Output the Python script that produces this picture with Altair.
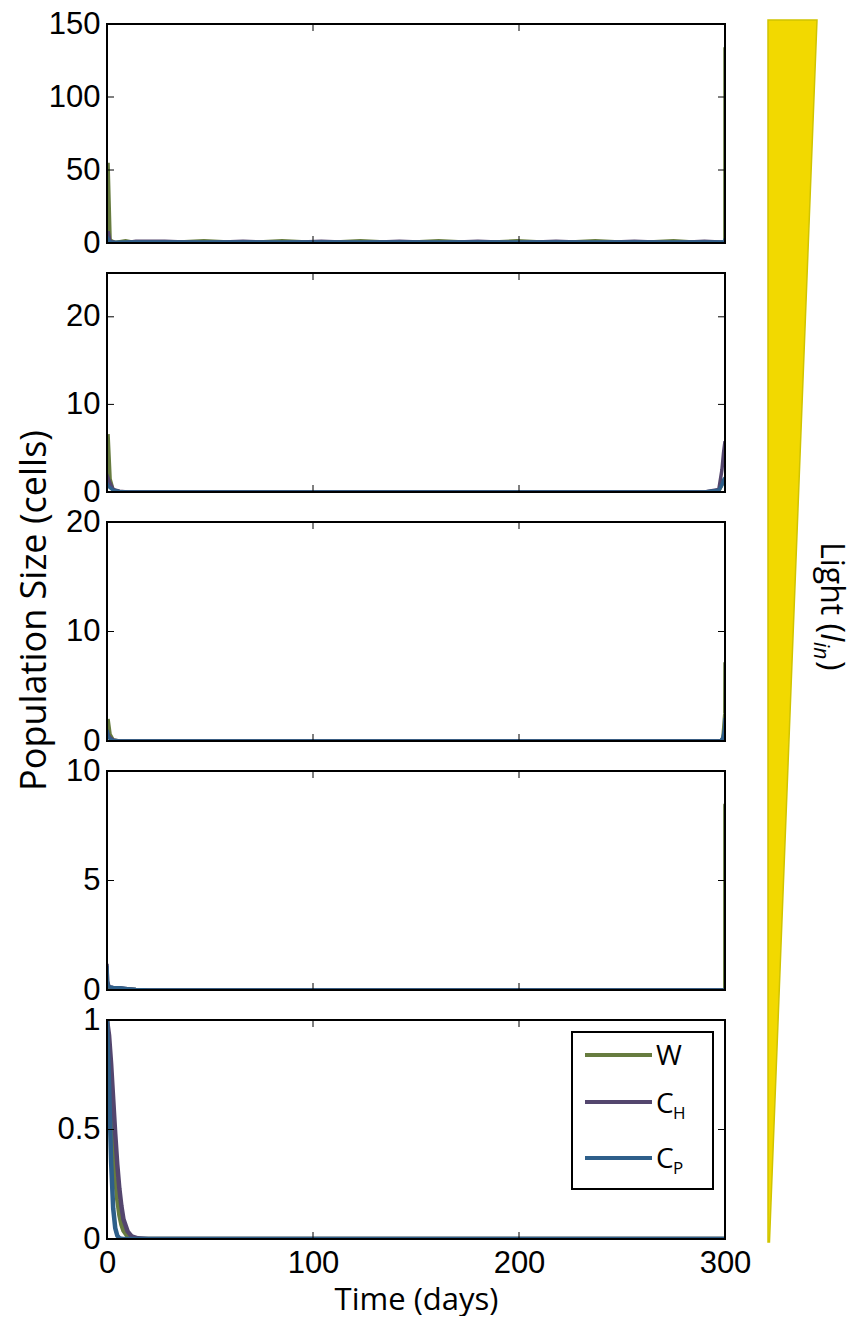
import altair as alt
import pandas as pd

SERIES = ["W", "C_H", "C_P"]
COLORS = ["#677c3f", "#54466e", "#2e5f8a"]

# ---- panel 1 (top), y 0-150
t1 = [0, 0.5, 1.5, 4, 9, 14, 28, 47, 66, 85, 104, 123, 142, 161, 180, 199, 218, 237, 256, 275, 290, 299.95, 300]
W1 = [5, 55, 2, 0.3, 1.5, 0.2, 0.2, 1.5, 0.2, 1.5, 0.2, 1.5, 0.2, 1.5, 0.2, 1.5, 0.2, 1.5, 0.2, 1.5, 0.2, 0.5, 134]
CH1 = [3, 8, 1, 0.3, 0.2, 1.2, 1.2, 0.2, 1.2, 0.2, 1.2, 0.2, 1.2, 0.2, 1.2, 0.2, 1.2, 0.2, 1.2, 0.2, 1.2, 0.5, 1.5]
CP1 = [2, 3, 0.6, 0.5, 0.6, 0.6, 0.6, 0.6, 0.6, 0.6, 0.6, 0.6, 0.6, 0.6, 0.6, 0.6, 0.6, 0.6, 0.6, 0.6, 0.6, 0.6, 3]

# ---- panel 2, y 0-25
t2 = [0, 0.5, 1.5, 3, 6, 10, 20, 50, 100, 150, 200, 250, 290, 297, 298.5, 299.3, 300]
W2 = [1.0, 6.6, 1.5, 0.2, 0.05, 0, 0, 0, 0, 0, 0, 0, 0, 0.1, 0.8, 1.3, 1.5]
CH2 = [1.0, 1.6, 1.0, 0.3, 0.1, 0, 0, 0, 0, 0, 0, 0, 0, 0.3, 2.5, 4.5, 5.8]
CP2 = [1.0, 0.7, 0.5, 0.2, 0.05, 0, 0, 0, 0, 0, 0, 0, 0, 0.2, 0.8, 1.4, 1.6]

# ---- panel 3, y 0-20
t3 = [0, 0.5, 1.5, 3, 6, 10, 20, 50, 100, 150, 200, 250, 290, 298, 299, 299.9, 300]
W3 = [1.0, 2.0, 0.6, 0.1, 0, 0, 0, 0, 0, 0, 0, 0, 0, 0, 0.3, 2.5, 7.2]
CH3 = [1.0, 0.6, 0.3, 0.1, 0, 0, 0, 0, 0, 0, 0, 0, 0, 0, 0.2, 1.0, 1.8]
CP3 = [1.0, 0.4, 0.2, 0.05, 0, 0, 0, 0, 0, 0, 0, 0, 0, 0, 0.3, 1.2, 2.1]

# ---- panel 4, y 0-10
t4 = [0, 0.3, 1, 3, 6, 10, 14, 20, 50, 100, 150, 200, 250, 299, 299.9, 299.95, 300]
W4 = [0.5, 0.3, 0.12, 0.1, 0.08, 0.05, 0.02, 0, 0, 0, 0, 0, 0, 0, 0, 8.4, 8.5]
CH4 = [1.2, 0.4, 0.15, 0.12, 0.1, 0.06, 0.02, 0, 0, 0, 0, 0, 0, 0, 0, 0, 0]
CP4 = [1.1, 0.3, 0.14, 0.12, 0.1, 0.06, 0.02, 0, 0, 0, 0, 0, 0, 0, 0, 0, 0]

# ---- panel 5 (bottom), y 0-1
t5 = [0, 1, 2, 3, 4, 5, 6, 7, 8, 10, 12, 15, 20, 50, 100, 150, 200, 250, 300]
W5 = [1, 0.82, 0.60, 0.42, 0.28, 0.18, 0.11, 0.065, 0.038, 0.012, 0.004, 0.001, 0, 0, 0, 0, 0, 0, 0]
CH5 = [1, 0.93, 0.80, 0.64, 0.48, 0.34, 0.23, 0.15, 0.09, 0.035, 0.012, 0.003, 0, 0, 0, 0, 0, 0, 0]
CP5 = [1, 0.70, 0.35, 0.14, 0.05, 0.015, 0.004, 0.001, 0, 0, 0, 0, 0, 0, 0, 0, 0, 0, 0]

X_TICKS = [0, 100, 200, 300]
PANELS = [
    (t1, W1, CH1, CP1, 150, [0, 50, 100, 150]),
    (t2, W2, CH2, CP2, 25, [0, 10, 20]),
    (t3, W3, CH3, CP3, 20, [0, 10, 20]),
    (t4, W4, CH4, CP4, 10, [0, 5, 10]),
    (t5, W5, CH5, CP5, 1, [0, 0.5, 1]),
]

# light wedge (relative width along the light axis)
WEDGE_POS = [0, 1]
WEDGE_W = [0.03, 1]

PW, PH = 618, 219
TICK = 7
one = pd.DataFrame({"k": [0]})


def light_group():
    wedge_df = pd.DataFrame({"pos": WEDGE_POS, "w": WEDGE_W})
    wedge = alt.Chart(wedge_df).mark_area(
        orient="horizontal", fill="#f2d900", stroke="#d0c400", strokeWidth=1.5, clip=False
    ).encode(
        y=alt.Y("pos:Q", scale=alt.Scale(domain=[0, 1], range=[1218, -4]), axis=None),
        x=alt.X("w:Q", scale=alt.Scale(domain=[0, 1], range=[661, 710]), axis=None),
        x2=alt.value(661),
    )
    lt = dict(angle=90, align="left", baseline="alphabetic", color="black", font="Open Sans")
    LX, LY = 714, 518
    texts = [
        alt.Chart(one).mark_text(**lt, fontSize=32, text="Light (").encode(x=alt.value(LX), y=alt.value(LY)),
        alt.Chart(one).mark_text(**lt, fontSize=32, fontStyle="italic", text="I", dx=91).encode(x=alt.value(LX), y=alt.value(LY)),
        alt.Chart(one).mark_text(**lt, fontSize=21, fontStyle="italic", text="in", dx=100, dy=7).encode(x=alt.value(LX), y=alt.value(LY)),
        alt.Chart(one).mark_text(**lt, fontSize=32, text=")", dx=119).encode(x=alt.value(LX), y=alt.value(LY)),
    ]
    return alt.layer(wedge, *texts)


def panel(t, w, ch, cp, ymax, yticks, idx, stroke_w):
    bottom = idx == 4
    xs = alt.Scale(domain=[0, 300], nice=False, zero=False)
    ys = alt.Scale(domain=[0, ymax], nice=False)
    if bottom:
        xaxis = alt.Axis(values=X_TICKS, title="Time (days)", labelPadding=9, titlePadding=7,
                         format="~f", titleFontSize=31)
    else:
        xaxis = alt.Axis(values=X_TICKS, labels=False, title=None)
    if idx == 2:
        yaxis = alt.Axis(values=yticks, title="Population Size (cells)", labelPadding=7, format="~f",
                         titlePadding=12, titleFontSize=36, titleY=88)
    else:
        yaxis = alt.Axis(values=yticks, title=None, labelPadding=7, format="~f")
    X = lambda f: alt.X(f, scale=xs, axis=xaxis)
    Y = lambda f: alt.Y(f, scale=ys, axis=yaxis)
    layers = []
    for vals, col in zip([w, ch, cp], COLORS):
        df = pd.DataFrame({"t": t, "v": vals})
        layers.append(
            alt.Chart(df).mark_line(color=col, strokeWidth=stroke_w, clip=True).encode(
                x=X("t:Q"), y=Y("v:Q"))
        )
    ydf = pd.DataFrame({"v": yticks})
    xdf = pd.DataFrame({"t": X_TICKS})
    layers.append(alt.Chart(ydf).mark_rule(color="black", strokeWidth=1).encode(
        y=Y("v:Q"), x=alt.value(0), x2=alt.value(TICK)))
    layers.append(alt.Chart(ydf).mark_rule(color="black", strokeWidth=1).encode(
        y=Y("v:Q"), x=alt.value(PW - TICK), x2=alt.value(PW)))
    layers.append(alt.Chart(xdf).mark_rule(color="black", strokeWidth=1).encode(
        x=X("t:Q"), y=alt.value(PH - TICK), y2=alt.value(PH)))
    layers.append(alt.Chart(xdf).mark_rule(color="black", strokeWidth=1).encode(
        x=X("t:Q"), y=alt.value(0), y2=alt.value(TICK)))
    if bottom:
        layers.append(alt.Chart(one).mark_rect(fill="white", stroke="black", strokeWidth=2).encode(
            x=alt.value(465), x2=alt.value(606), y=alt.value(12), y2=alt.value(169)))
        for col, ly in zip(COLORS, [35, 82, 138]):
            layers.append(alt.Chart(one).mark_rule(color=col, strokeWidth=4).encode(
                x=alt.value(478), x2=alt.value(545), y=alt.value(ly)))
        txt = dict(font="Open Sans", fontSize=28, color="black", align="left", baseline="middle")
        sub = dict(font="Open Sans", fontSize=17, color="black", align="left", baseline="middle")
        layers.append(alt.Chart(one).mark_text(**txt, text="W").encode(x=alt.value(549), y=alt.value(37)))
        layers.append(alt.Chart(one).mark_text(**txt, text="C").encode(x=alt.value(549), y=alt.value(85)))
        layers.append(alt.Chart(one).mark_text(**sub, text="H").encode(x=alt.value(566), y=alt.value(94)))
        layers.append(alt.Chart(one).mark_text(**txt, text="C").encode(x=alt.value(549), y=alt.value(140)))
        layers.append(alt.Chart(one).mark_text(**sub, text="P").encode(x=alt.value(566), y=alt.value(149)))
    # axes box drawn on top of the lines
    layers.append(alt.Chart(one).mark_rect(fill="transparent", stroke="black", strokeWidth=2).encode(
        x=alt.value(0), x2=alt.value(PW), y=alt.value(0), y2=alt.value(PH)))
    data_group = alt.layer(*layers)
    if idx == 0:
        return alt.layer(data_group, light_group()).resolve_scale(
            x="independent", y="independent").properties(width=PW, height=PH)
    return data_group.properties(width=PW, height=PH)


panels = [panel(*p, idx=i, stroke_w=(4.5 if i == 4 else 3.5)) for i, p in enumerate(PANELS)]

chart = alt.vconcat(*panels, spacing=30, bounds="flush").properties(
    padding={"left": 7, "top": -1, "right": 0, "bottom": 0}
).configure_view(stroke="black", strokeWidth=2).configure_axis(
    labelFont="Liberation Sans", labelFontSize=31, labelColor="black", labelFlush=False,
    titleFont="Open Sans", titleFontSize=30, titleFontWeight="normal", titleColor="black",
    grid=False, domain=False, ticks=False, tickSize=0,
)

chart.save("out.html", embed_options={"renderer": "svg", "actions": False})
